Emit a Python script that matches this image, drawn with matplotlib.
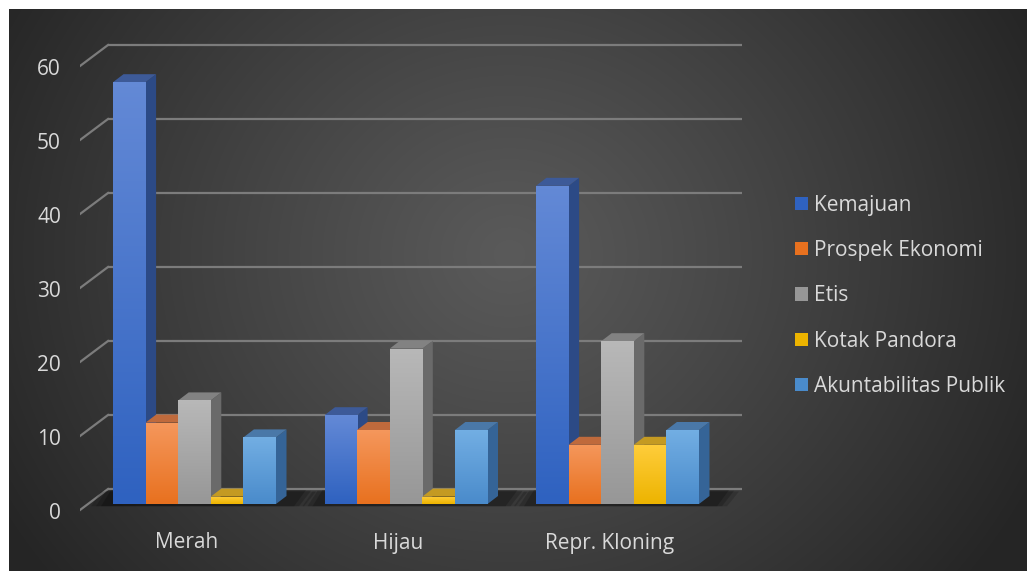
import numpy as np
import matplotlib.pyplot as plt
from matplotlib.patches import Polygon
import matplotlib.colors as mcolors

# ---- data ----
categories = ["Merah", "Hijau", "Repr. Kloning"]
series_names = ["Kemajuan", "Prospek Ekonomi", "Etis", "Kotak Pandora", "Akuntabilitas Publik"]
kemajuan = [57, 12, 43]
prospek_ekonomi = [11, 10, 8]
etis = [14, 21, 22]
kotak_pandora = [1, 1, 8]
akuntabilitas_publik = [9, 10, 10]
y_ticks = [0, 10, 20, 30, 40, 50, 60]

series_values = [kemajuan, prospek_ekonomi, etis, kotak_pandora, akuntabilitas_publik]

# (front top, front bottom, side, top face)
palette = [
    ("#6389d6", "#2f62c0", "#2c4a86", "#3d5a98"),
    ("#f5975c", "#e8711f", "#a8562a", "#bf6a3c"),
    ("#b8b8b8", "#979797", "#6a6a6a", "#828282"),
    ("#ffcd3c", "#edb400", "#b08a10", "#c49a22"),
    ("#72aee3", "#4a8bcb", "#356497", "#4a78a8"),
]

TEXT = "#d9d9d9"
FONT = "Open Sans"
FS = 15

W, H = 1027, 571
fig = plt.figure(figsize=(W / 100, H / 100), dpi=100)
fig.patch.set_facecolor("white")

# ---- radial background ----
bg = fig.add_axes([9 / W, 0, 1 - 9 / W, 1 - 9 / H])
bh, bw = H - 9, W - 9
yy, xx = np.mgrid[0:bh, 0:bw]
r = np.hypot((xx - 500) / 1.05, (yy - 245) / 0.95)
t = np.clip(r / 560.0, 0, 1) ** 1.1
c_in = np.array([0x5a, 0x5a, 0x5a]) / 255
c_out = np.array([0x25, 0x25, 0x25]) / 255
img = c_in + (c_out - c_in) * t[..., None]
bg.imshow(img, aspect="auto", interpolation="bilinear")
bg.axis("off")

# ---- main axes: 1 x-unit = one category step, y in values ----
PXX, PXY = 211.5, 7.4          # pixels per unit
X0PX, Y0PX = 194.5, 504.0      # pixel of (0, 0) on the bar front plane
L, R, T, B = 80, 742, 40, 515
ax = fig.add_axes([L / W, 1 - B / H, (R - L) / W, (B - T) / H])
ax.set_facecolor("none")
ax.axis("off")


def px_x(p):
    return (p - X0PX) / PXX


# gridlines: back wall plus slanted left wall
back_dy = 15 / PXY
front_dy = -6 / PXY
for v in y_ticks:
    ax.plot([px_x(108), px_x(742)], [v + back_dy, v + back_dy],
            color="#7c7c7c", lw=1.6, zorder=1, solid_capstyle="butt")
    ax.plot([px_x(80), px_x(108)], [v + front_dy, v + back_dy],
            color="#7c7c7c", lw=1.6, zorder=1)
    ax.text(px_x(61), v + front_dy - 0.5, str(v), ha="right", va="center",
            color=TEXT, fontsize=FS, family=FONT, clip_on=False)

n = len(series_names)
bw_ = 32.6 / PXX
ddx = 10.5 / PXX
ddy = 8.0 / PXY
xc = np.arange(len(categories))

# floor shadows
for i in xc:
    left = i - n / 2 * bw_
    right = i + n / 2 * bw_
    for k, a in enumerate([0.16, 0.18, 0.2]):
        g = (2 - k) * 5 / PXX
        poly = Polygon([(left - 12 / PXX - g, -0.3), (right + 18 / PXX + g, -0.3),
                        (right + 30 / PXX + g, ddy + 0.6 + k * 0.1),
                        (left - 2 / PXX - g, ddy + 0.6 + k * 0.1)],
                       closed=True, facecolor="black", edgecolor="none",
                       alpha=a, zorder=2)
        ax.add_patch(poly)

handles = []
z = 3
for s, (name, vals) in enumerate(zip(series_names, series_values)):
    ftop, fbot, side, top = palette[s]
    xs = xc + (s - (n - 1) / 2) * bw_
    for i, (x, v) in enumerate(zip(xs, vals)):
        x0, x1 = x - bw_ / 2, x + bw_ / 2
        # side face
        ax.add_patch(Polygon([(x1, 0), (x1 + ddx, ddy), (x1 + ddx, v + ddy), (x1, v)],
                             closed=True, facecolor=side, edgecolor="none",
                             zorder=z + s * 3 + i * 20))
        # top face
        ax.add_patch(Polygon([(x0, v), (x1, v), (x1 + ddx, v + ddy), (x0 + ddx, v + ddy)],
                             closed=True, facecolor=top, edgecolor="none",
                             zorder=z + s * 3 + i * 20 + 1))
    bars = ax.bar(xs, vals, width=bw_, color=fbot, edgecolor="none", label=name)
    for i, (rect, v) in enumerate(zip(bars.patches, vals)):
        zz = z + s * 3 + i * 20 + 2
        rect.set_zorder(zz)
        cmap = mcolors.LinearSegmentedColormap.from_list("g", [fbot, ftop])
        grad = np.linspace(1, 0, 64).reshape(-1, 1)
        im = ax.imshow(grad, cmap=cmap, aspect="auto",
                       extent=(rect.get_x(), rect.get_x() + bw_, 0, v),
                       zorder=zz + 0.5, interpolation="bilinear")
        im.set_clip_path(rect)
    handles.append(bars)

ax.set_xlim((L - X0PX) / PXX, (R - X0PX) / PXX)
ax.set_ylim((Y0PX - B) / PXY, (Y0PX - T) / PXY)

# category labels
for i, c in enumerate(categories):
    ax.text(i - 8 / PXX, (Y0PX - 543) / PXY, c, ha="center", va="center",
            color=TEXT, fontsize=FS, family=FONT, clip_on=False)

# legend
leg = fig.legend(handles=handles, labels=series_names,
                 loc="upper left", bbox_to_anchor=(795 / W, 1 - 195 / H),
                 frameon=False, prop={"family": FONT, "size": FS},
                 handlelength=0.6, handleheight=0.6, handletextpad=0.33,
                 labelspacing=1.16, borderpad=0, borderaxespad=0)
for txt in leg.get_texts():
    txt.set_color(TEXT)

fig.savefig("out.png", dpi=100, facecolor=fig.get_facecolor())
